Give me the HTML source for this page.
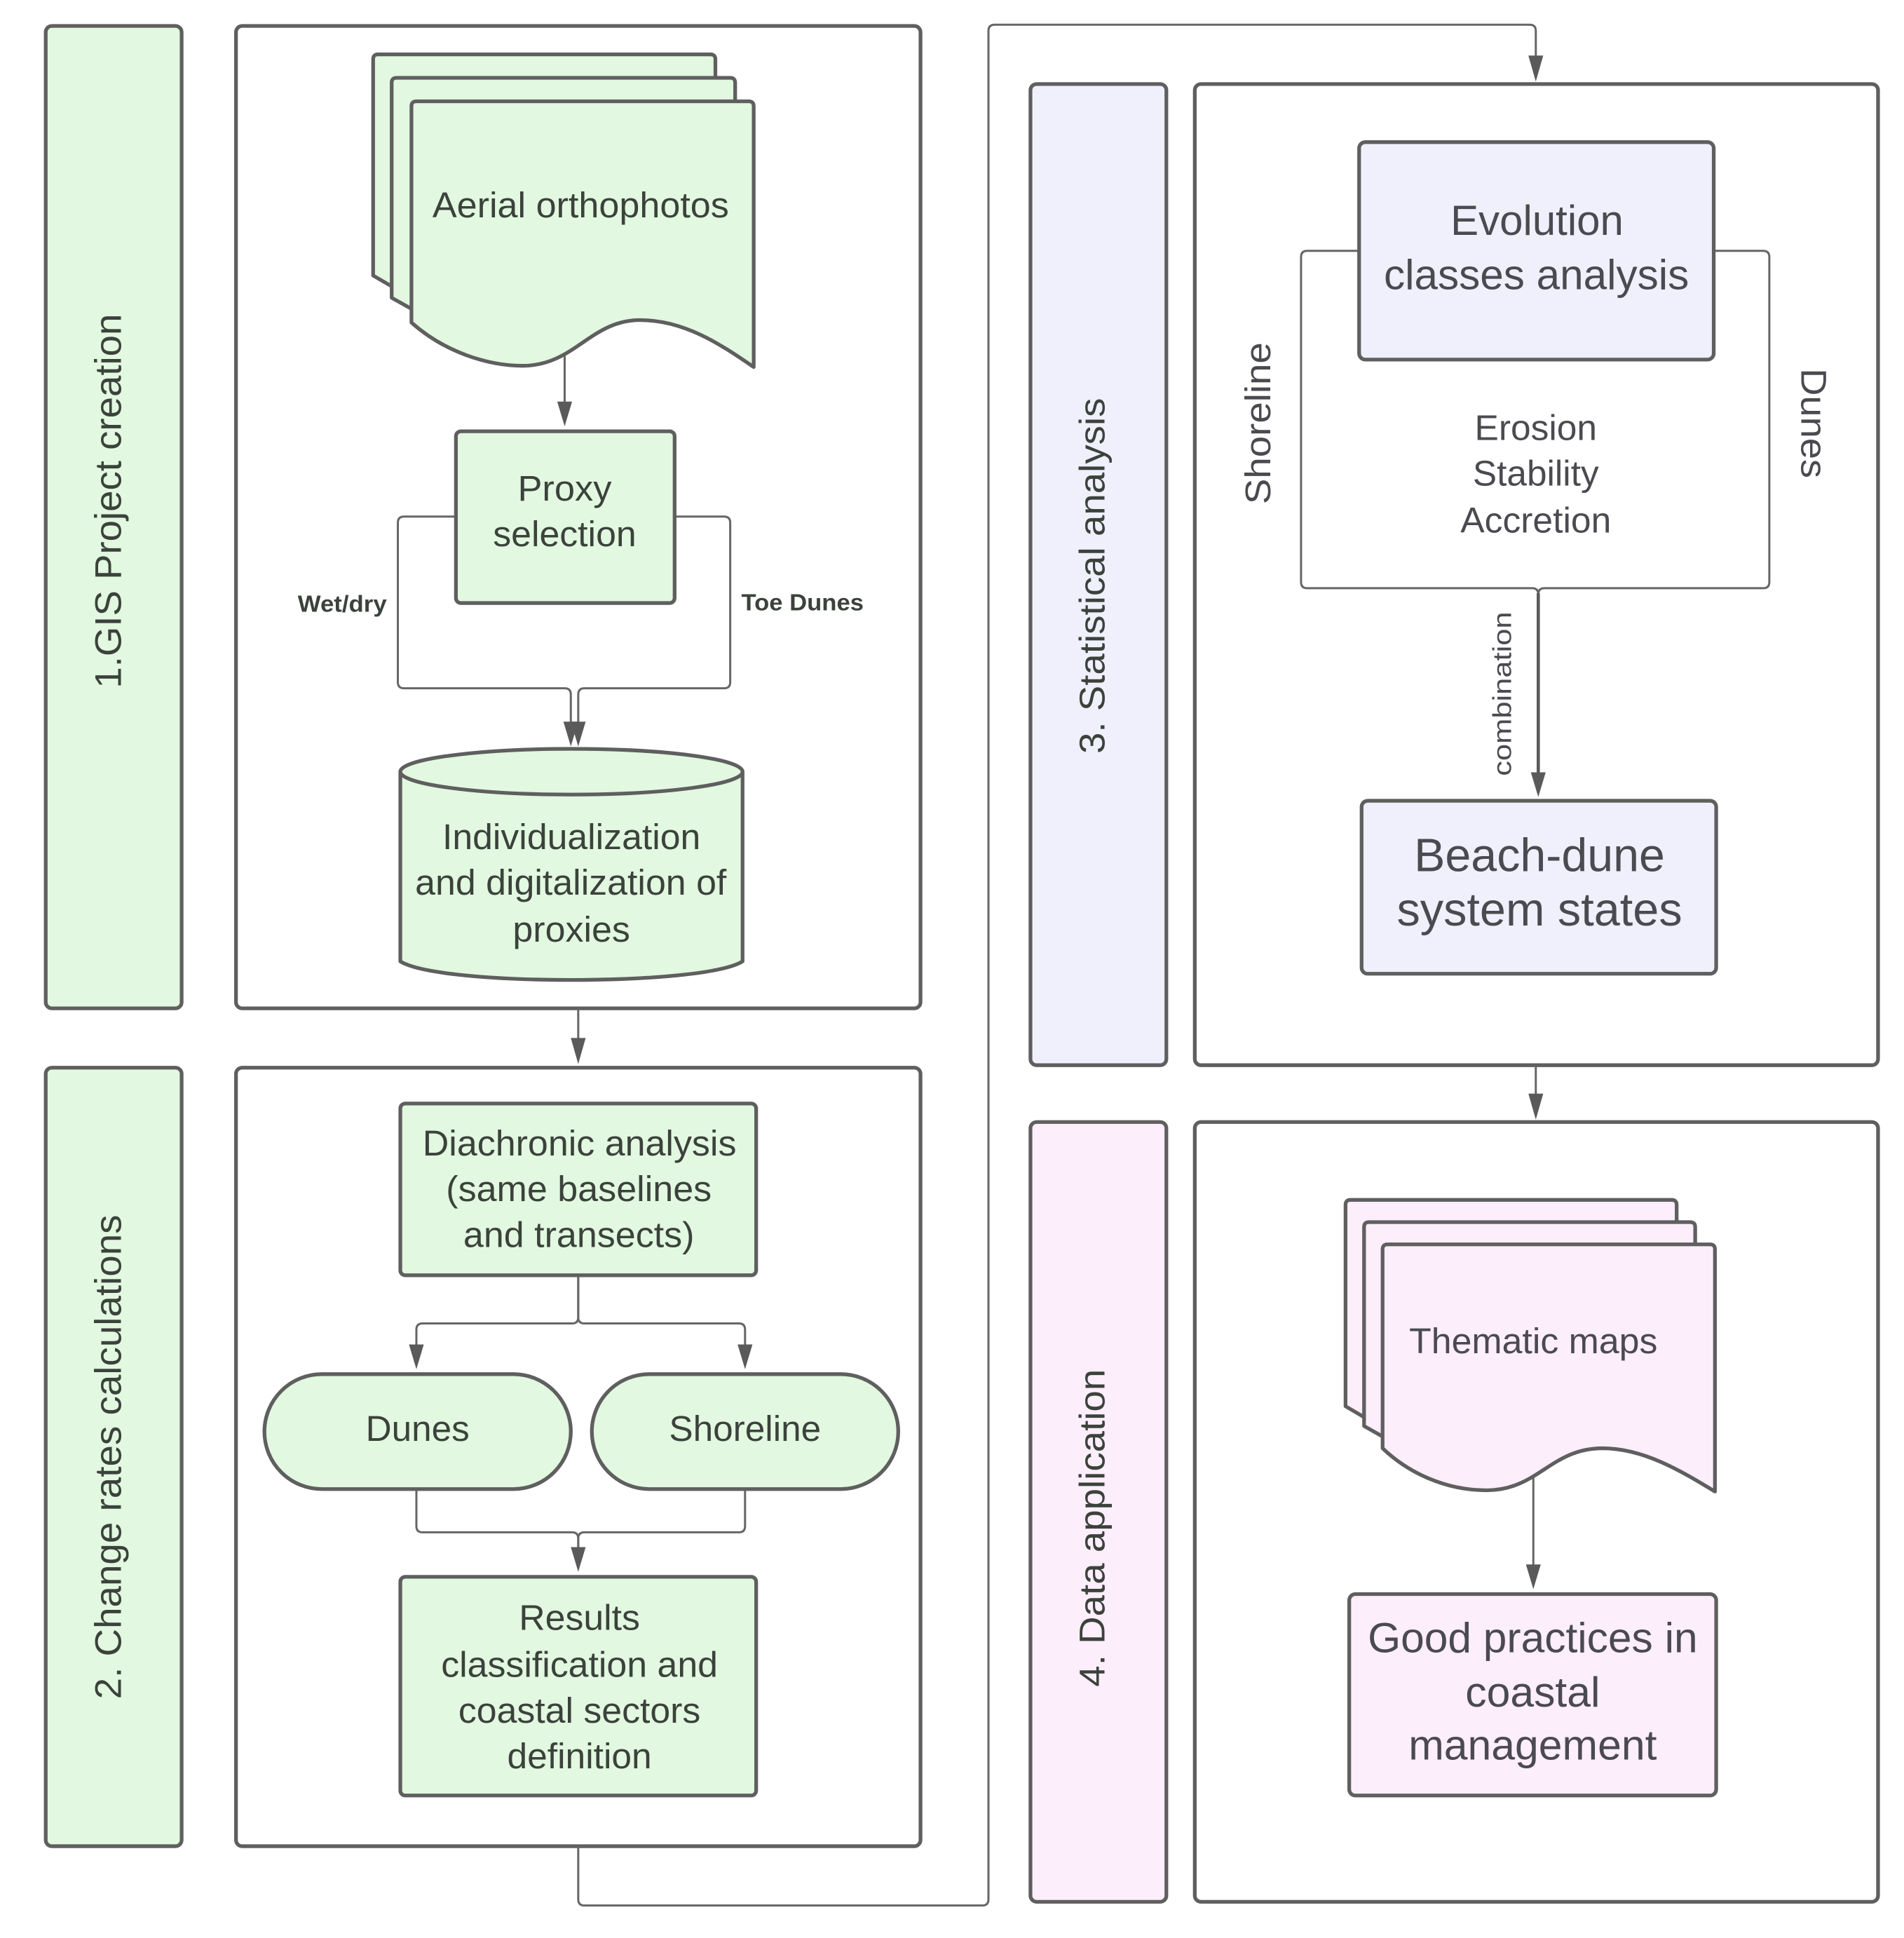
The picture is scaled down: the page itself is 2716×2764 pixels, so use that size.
<!DOCTYPE html>
<html>
<head>
<meta charset="utf-8">
<style>
html,body{margin:0;padding:0;background:#fff}
svg{display:block}
text{font-family:"Liberation Sans",sans-serif;fill:#3b423b;text-anchor:middle}
.b{stroke:#5f5f5f;stroke-width:3;stroke-linejoin:round}
.g{fill:#e2f8e0}.l{fill:#f0f0fd}.p{fill:#fdeefb}.w{fill:#fff}
.c{fill:none;stroke:#666;stroke-width:1.7}
.a{fill:#5a5a5a}
.s{fill:#4a4a50}
</style>
</head>
<body>
<svg xmlns="http://www.w3.org/2000/svg" width="2716" height="2764" viewBox="0 0 1541 1568.3" preserveAspectRatio="none">
<rect width="1541" height="1568.3" fill="#fff"/>

<!-- Bars -->
<rect class="b g" x="37" y="21" width="110" height="795" rx="5"/>
<rect class="b g" x="37" y="864" width="110" height="630" rx="5"/>
<rect class="b l" x="834" y="68" width="110" height="794" rx="5"/>
<rect class="b p" x="834" y="908" width="110" height="631" rx="5"/>

<!-- Panels -->
<rect class="b w" x="191" y="21" width="554" height="795" rx="5"/>
<rect class="b w" x="191" y="864" width="554" height="630" rx="5"/>
<rect class="b w" x="967" y="68" width="553" height="794" rx="5"/>
<rect class="b w" x="967" y="908" width="553" height="631" rx="5"/>

<!-- Connectors -->
<path class="c" d="M468 816V855"/>
<path class="c" d="M468 1494V1537q0 5 5 5H795q5 0 5-5V25q0-5 5-5H1238q5 0 5 5V55"/>
<path class="c" d="M1243 862V895"/>
<path class="c" d="M457 287V335"/>
<path class="c" d="M369 418H327q-5 0-5 5V552q0 5 5 5H457q5 0 5 5V590"/>
<path class="c" d="M546 418H586q5 0 5 5V552q0 5-5 5H473q-5 0-5 5V590"/>
<path class="c" d="M468 1032V1066q0 5-5 5H342q-5 0-5 5V1098"/>
<path class="c" d="M468 1032V1066q0 5 5 5H598q5 0 5 5V1098"/>
<path class="c" d="M337 1205V1235q0 5 5 5H463q5 0 5 5V1262"/>
<path class="c" d="M603 1205V1235q0 5-5 5H473q-5 0-5 5V1262"/>
<path class="c" d="M1100 203H1058q-5 0-5 5V471q0 5 5 5H1240q5 0 5 5V630"/>
<path class="c" d="M1387 203H1427q5 0 5 5V471q0 5-5 5H1250q-5 0-5 5V630"/>
<path d="M1245 480V630" fill="none" stroke="#5a5a5a" stroke-width="2.6"/>
<path class="c" d="M1241 1195V1272"/>

<!-- Arrowheads -->
<path class="a" d="M462 840h12l-6 21z"/>
<path class="a" d="M1237 45h12l-6 21z"/>
<path class="a" d="M1237 885h12l-6 21z"/>
<path class="a" d="M451 325h12l-6 20z"/>
<path class="a" d="M456 584h12l-6 20z"/>
<path class="a" d="M462 584h12l-6 20z"/>
<path class="a" d="M331 1088h12l-6 20z"/>
<path class="a" d="M597 1088h12l-6 20z"/>
<path class="a" d="M462 1252h12l-6 20z"/>
<path class="a" d="M1239 625h12l-6 20z"/>
<path class="a" d="M1235 1266h12l-6 20z"/>

<!-- Multi-documents (green) -->
<path class="b g" d="M302 48q0-4 4-4H575q4 0 4 4V120H340V245L302 223Z"/>
<path class="b g" d="M317 67q0-4 4-4H591q4 0 4 4V140H360V265L317 241Z"/>
<path class="b g" d="M333 86q0-4 4-4H606q4 0 4 4V297C585 280 555 259 518 259C478 259 465 296 423 296C395 296 360 285 333 261Z"/>

<!-- Proxy -->
<rect class="b g" x="369" y="349" width="177" height="139" rx="4"/>

<!-- Cylinder -->
<path class="b g" d="M324 624V778C340 788 400 793 462 793S585 788 601 778V624"/>
<ellipse class="b g" cx="462.500" cy="624.500" rx="138.500" ry="18.500"/>

<!-- Section 2 -->
<rect class="b g" x="324" y="893" width="288" height="139" rx="4"/>
<rect class="b g" x="214" y="1112" width="248" height="93" rx="46.500"/>
<rect class="b g" x="479" y="1112" width="248" height="93" rx="46.500"/>
<rect class="b g" x="324" y="1276" width="288" height="177" rx="4"/>

<!-- Section 3 -->
<rect class="b l" x="1100" y="115" width="287" height="176" rx="5"/>
<rect class="b l" x="1102" y="648" width="287" height="140" rx="5"/>

<!-- Multi-documents (pink) -->
<path class="b p" d="M1089 975q0-4 4-4H1353q4 0 4 4V1050H1130V1162L1089 1138Z"/>
<path class="b p" d="M1104 993q0-4 4-4H1368q4 0 4 4V1060H1150V1180L1104 1154Z"/>
<path class="b p" d="M1119 1011q0-4 4-4H1384q4 0 4 4V1207C1360 1190 1330 1172 1297 1172C1255 1172 1245 1206 1203 1206C1170 1206 1140 1192 1119 1172Z"/>
<rect class="b p" x="1092" y="1290" width="297" height="163" rx="5"/>

<!-- Rotated bar labels -->
<text font-size="30" textLength="303" lengthAdjust="spacingAndGlyphs" transform="translate(98 405.500) rotate(-90)">1.GIS Project creation</text>
<text font-size="30" textLength="392" lengthAdjust="spacingAndGlyphs" transform="translate(98 1179) rotate(-90)">2. Change rates calculations</text>
<text font-size="29" textLength="288" lengthAdjust="spacingAndGlyphs" transform="translate(894 466) rotate(-90)">3. Statistical analysis</text>
<text font-size="29" textLength="257" lengthAdjust="spacingAndGlyphs" transform="translate(894 1236.500) rotate(-90)">4. Data application</text>

<!-- Section 1 text -->
<text font-size="29" x="470" y="176" textLength="240" lengthAdjust="spacingAndGlyphs">Aerial orthophotos</text>
<text font-size="29" x="457" y="405" textLength="76" lengthAdjust="spacingAndGlyphs">Proxy</text>
<text font-size="29" x="457" y="442" textLength="116" lengthAdjust="spacingAndGlyphs">selection</text>
<text font-size="19" font-weight="bold" x="277" y="495" textLength="72" lengthAdjust="spacingAndGlyphs">Wet/dry</text>
<text font-size="19" font-weight="bold" x="649.500" y="494" textLength="99" lengthAdjust="spacingAndGlyphs">Toe Dunes</text>
<text font-size="29" x="462.500" y="687" textLength="209" lengthAdjust="spacingAndGlyphs">Individualization</text>
<text font-size="29" x="462" y="724" textLength="252" lengthAdjust="spacingAndGlyphs">and digitalization of</text>
<text font-size="29" x="462.500" y="762" textLength="95" lengthAdjust="spacingAndGlyphs">proxies</text>

<!-- Section 2 text -->
<text font-size="29" x="469" y="935" textLength="254" lengthAdjust="spacingAndGlyphs">Diachronic analysis</text>
<text font-size="29" x="468.500" y="972" textLength="215" lengthAdjust="spacingAndGlyphs">(same baselines</text>
<text font-size="29" x="468.500" y="1009" textLength="187" lengthAdjust="spacingAndGlyphs">and transects)</text>
<text font-size="29" x="338" y="1166" textLength="84" lengthAdjust="spacingAndGlyphs">Dunes</text>
<text font-size="29" x="603" y="1166" textLength="123" lengthAdjust="spacingAndGlyphs">Shoreline</text>
<text font-size="29" x="469" y="1319" textLength="98" lengthAdjust="spacingAndGlyphs">Results</text>
<text font-size="29" x="469" y="1357" textLength="224" lengthAdjust="spacingAndGlyphs">classification and</text>
<text font-size="29" x="469" y="1394" textLength="196" lengthAdjust="spacingAndGlyphs">coastal sectors</text>
<text font-size="29" x="469" y="1431" textLength="117" lengthAdjust="spacingAndGlyphs">definition</text>

<!-- Section 3 text -->
<text class="s" font-size="34" x="1244" y="190" textLength="140" lengthAdjust="spacingAndGlyphs">Evolution</text>
<text class="s" font-size="34" x="1243.500" y="234" textLength="247" lengthAdjust="spacingAndGlyphs">classes analysis</text>
<text class="s" font-size="29" x="1243" y="356" textLength="99" lengthAdjust="spacingAndGlyphs">Erosion</text>
<text class="s" font-size="29" x="1243" y="393" textLength="102" lengthAdjust="spacingAndGlyphs">Stability</text>
<text class="s" font-size="29" x="1243" y="431" textLength="122" lengthAdjust="spacingAndGlyphs">Accretion</text>
<text class="s" font-size="29" textLength="131" lengthAdjust="spacingAndGlyphs" transform="translate(1028 342.500) rotate(-90)">Shoreline</text>
<text class="s" font-size="29" textLength="89" lengthAdjust="spacingAndGlyphs" transform="translate(1458 342.500) rotate(90)">Dunes</text>
<text class="s" font-size="21" textLength="133" lengthAdjust="spacingAndGlyphs" transform="translate(1223 561.500) rotate(-90)">combination</text>
<text class="s" font-size="38" x="1246" y="705" textLength="203" lengthAdjust="spacingAndGlyphs">Beach-dune</text>
<text class="s" font-size="38" x="1246" y="749" textLength="231" lengthAdjust="spacingAndGlyphs">system states</text>

<!-- Section 4 text -->
<text class="s" font-size="29" x="1241" y="1095" textLength="201" lengthAdjust="spacingAndGlyphs">Thematic maps</text>
<text class="s" font-size="34" x="1240.500" y="1337" textLength="267" lengthAdjust="spacingAndGlyphs">Good practices in</text>
<text class="s" font-size="34" x="1240.500" y="1381" textLength="109" lengthAdjust="spacingAndGlyphs">coastal</text>
<text class="s" font-size="34" x="1240.500" y="1424" textLength="201" lengthAdjust="spacingAndGlyphs">management</text>
</svg>
</body>
</html>
